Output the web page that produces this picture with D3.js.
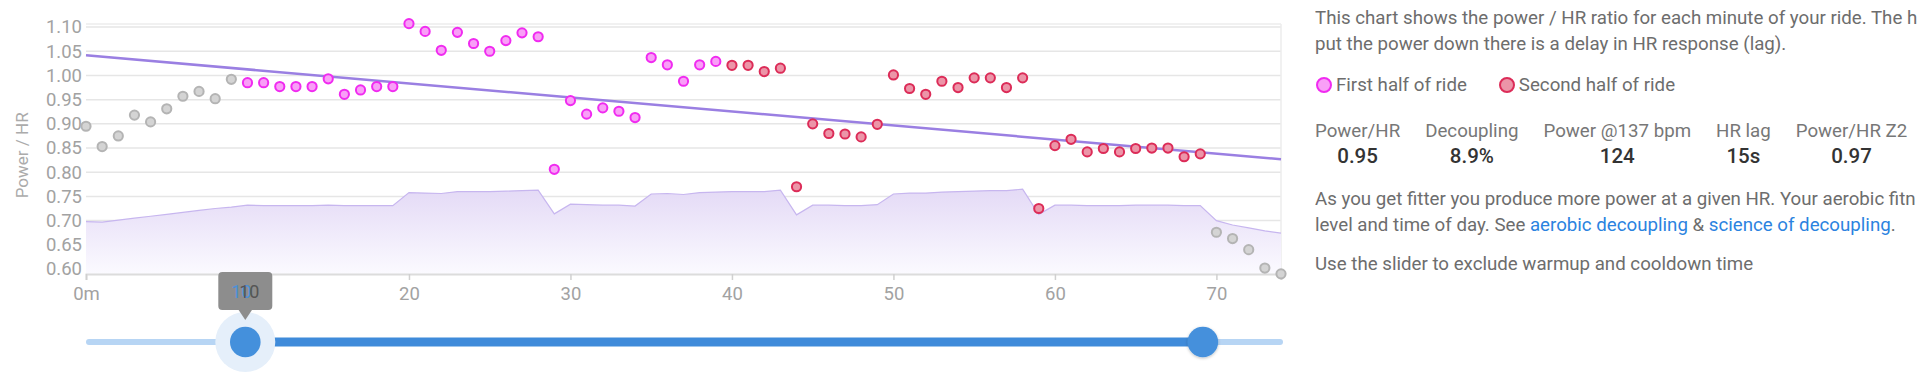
<!DOCTYPE html>
<html>
<head>
<meta charset="utf-8">
<script src="https://cdn.jsdelivr.net/npm/d3@7"></script>
<style>
  body { margin: 0; background: #fff; width: 1917px; height: 375px; overflow: hidden; position: relative; font-family: Roboto, sans-serif; }
  #chart { position: absolute; left: 0; top: 0; }
  #panel { position: absolute; left: 1315px; top: 0; width: 602px; height: 375px; overflow: hidden;
           color: #6d6d6d; font-size: 18.7px; line-height: 26px; white-space: nowrap; }
  .blk { position: absolute; left: 0; }
  .legend-item { display: inline-flex; align-items: center; margin-right: 31px; }
  .legend-item svg { margin-right: 3px; }
  .stats { display: flex; }
  .stat { text-align: center; margin-right: 25px; }
  .stat .lbl { color: #777; }
  .stat .val { color: #333; font-size: 20.5px; font-weight: 500; line-height: 25px; }
  a { color: #2b83e0; text-decoration: none; }
</style>
</head>
<body>
<svg id="chart"></svg>
<div id="panel"></div>
<script>
// power / HR ratio, one value per minute (0..74)
const ratio = [
  0.895, 0.853, 0.875, 0.918, 0.904, 0.931, 0.957, 0.967, 0.952, 0.992,
  0.985, 0.985, 0.977, 0.977, 0.977, 0.993, 0.961, 0.970, 0.977, 0.977,
  1.107, 1.091, 1.052, 1.089, 1.066, 1.050, 1.072, 1.088, 1.080, 0.806,
  0.948, 0.920, 0.933, 0.926, 0.913, 1.037, 1.022, 0.988, 1.022, 1.029,
  1.021, 1.021, 1.008, 1.015, 0.770, 0.900, 0.880, 0.879, 0.873, 0.899,
  1.001, 0.973, 0.961, 0.988, 0.975, 0.995, 0.995, 0.975, 0.995, 0.725,
  0.855, 0.868, 0.842, 0.849, 0.842, 0.849, 0.850, 0.850, 0.832, 0.838,
  0.676, 0.663, 0.640, 0.602, 0.590
];

// background effort profile, drawn on the same axis
const effort = [
  0.698, 0.697, 0.701, 0.705, 0.709, 0.713, 0.717, 0.721, 0.725, 0.728,
  0.732, 0.731, 0.731, 0.731, 0.731, 0.732, 0.731, 0.731, 0.731, 0.731,
  0.758, 0.757, 0.756, 0.760, 0.760, 0.760, 0.761, 0.762, 0.763, 0.714,
  0.734, 0.733, 0.732, 0.732, 0.730, 0.755, 0.756, 0.754, 0.758, 0.759,
  0.760, 0.760, 0.760, 0.763, 0.712, 0.732, 0.732, 0.731, 0.731, 0.733,
  0.755, 0.757, 0.757, 0.759, 0.760, 0.761, 0.762, 0.762, 0.765, 0.713,
  0.732, 0.732, 0.731, 0.731, 0.731, 0.732, 0.732, 0.732, 0.731, 0.731,
  0.700, 0.691, 0.685, 0.679, 0.674
];

const trendMinutes = [0, 74];
const trendValues  = [1.0415, 0.827];

const yTicks = [0.60, 0.65, 0.70, 0.75, 0.80, 0.85, 0.90, 0.95, 1.00, 1.05, 1.10];
const xTicks = [0, 10, 20, 30, 40, 50, 60, 70];
const sliderRange = [10, 69];

const legendLabels = ['First half of ride', 'Second half of ride'];
const statLabels = ['Power/HR', 'Decoupling', 'Power @137 bpm', 'HR lag', 'Power/HR Z2'];
const statValues = ['0.95', '8.9%', '124', '15s', '0.97'];

const COL = {
  first:  { fill: '#f99ff7', stroke: '#f02bf0' },
  second: { fill: '#ec95a8', stroke: '#dc2c58' },
  out:    { fill: '#d4d4d4', stroke: '#b4b4b4' }
};

const svg = d3.select('#chart').attr('width', 1300).attr('height', 375);

const x  = d3.scaleLinear().domain([0, 74]).range([86, 1281]);
const y  = d3.scaleLinear().domain([0.5897, 1.1063]).range([274, 24]);
const sx = d3.scaleLinear().domain([0, 74]).range([83, 1284]);
const sliderY = 342;

const defs = svg.append('defs');
const grad = defs.append('linearGradient').attr('id', 'effortGrad')
  .attr('x1', 0).attr('y1', 0).attr('x2', 0).attr('y2', 1);
grad.append('stop').attr('offset', '0%').attr('stop-color', '#e4daf6');
grad.append('stop').attr('offset', '100%').attr('stop-color', '#fbfaff');
defs.append('filter').attr('id', 'shadow')
  .append('feDropShadow').attr('dx', 0).attr('dy', 1).attr('stdDeviation', 1.5)
  .attr('flood-color', '#000').attr('flood-opacity', 0.25);

// grid
const grid = svg.append('g');
grid.selectAll('line.h')
  .data(yTicks)
  .join('line')
    .attr('x1', x.range()[0]).attr('x2', x.range()[1])
    .attr('y1', d => y(d)).attr('y2', d => y(d))
    .attr('stroke', '#e6e6e6').attr('stroke-width', 1.5);
grid.append('line')
  .attr('x1', x.range()[0]).attr('x2', x.range()[1])
  .attr('y1', y.range()[1]).attr('y2', y.range()[1])
  .attr('stroke', '#ececec').attr('stroke-width', 1.5);
grid.append('line')
  .attr('x1', x.range()[1]).attr('x2', x.range()[1])
  .attr('y1', y.range()[1]).attr('y2', y.range()[0])
  .attr('stroke', '#ececec').attr('stroke-width', 1.5);

// effort area
const area = d3.area()
  .x((d, i) => x(i))
  .y0(y.range()[0])
  .y1(d => y(d));
svg.append('path')
  .datum(effort)
  .attr('d', area)
  .attr('fill', 'url(#effortGrad)');
svg.append('path')
  .datum(effort)
  .attr('d', d3.line().x((d, i) => x(i)).y(d => y(d)))
  .attr('fill', 'none')
  .attr('stroke', '#c7b6ef')
  .attr('stroke-width', 1.2);

// x axis
const xAxis = svg.append('g')
  .attr('transform', `translate(0,${y.range()[0]})`)
  .call(d3.axisBottom(x).tickValues(xTicks).tickSize(6).tickPadding(7)
    .tickFormat(d => d === 0 ? '0m' : d));
xAxis.select('.domain').attr('stroke', '#dcdcdc').attr('stroke-width', 2);
xAxis.selectAll('.tick line').attr('stroke', '#d0d0d0').attr('stroke-width', 1.5);
xAxis.selectAll('text').attr('fill', '#a2a2a2').style('font-size', '18.5px').style('font-family', 'Roboto, sans-serif');

// y axis
const yAxis = svg.append('g')
  .attr('transform', `translate(${x.range()[0]},0)`)
  .call(d3.axisLeft(y).tickValues(yTicks).tickSize(0).tickPadding(4).tickFormat(d3.format('.2f')));
yAxis.select('.domain').remove();
yAxis.selectAll('text').attr('fill', '#a2a2a2').style('font-size', '18.5px').style('font-family', 'Roboto, sans-serif');

svg.append('text')
  .attr('transform', `translate(24,${y(0.835)}) rotate(-90)`)
  .attr('text-anchor', 'middle')
  .attr('dominant-baseline', 'middle')
  .attr('fill', '#ababab')
  .style('font-size', '17px')
  .text('Power / HR');

// trend line
svg.append('line')
  .attr('x1', x(trendMinutes[0])).attr('y1', y(trendValues[0]))
  .attr('x2', x(trendMinutes[1])).attr('y2', y(trendValues[1]))
  .attr('stroke', '#9a7fe2').attr('stroke-width', 2.5);

// points
const mid = (sliderRange[0] + sliderRange[1]) / 2;
const kind = i => (i < sliderRange[0] || i > sliderRange[1]) ? 'out' : (i < mid ? 'first' : 'second');
svg.append('g')
  .selectAll('circle')
  .data(ratio)
  .join('circle')
    .attr('cx', (d, i) => x(i))
    .attr('cy', d => y(d))
    .attr('r', 4.6)
    .attr('fill', (d, i) => COL[kind(i)].fill)
    .attr('stroke', (d, i) => COL[kind(i)].stroke)
    .attr('stroke-width', 2);

// slider
const slider = svg.append('g');
slider.append('line')
  .attr('x1', sx(0) + 6).attr('x2', sx(74) - 4)
  .attr('y1', sliderY).attr('y2', sliderY)
  .attr('stroke', '#b7d5f4').attr('stroke-width', 6).attr('stroke-linecap', 'round');
slider.append('line')
  .attr('x1', sx(sliderRange[0])).attr('x2', sx(sliderRange[1]))
  .attr('y1', sliderY).attr('y2', sliderY)
  .attr('stroke', '#3f8bda').attr('stroke-width', 9);
slider.append('circle')
  .attr('cx', sx(sliderRange[0])).attr('cy', sliderY).attr('r', 30)
  .attr('fill', '#e5effa');
slider.selectAll('circle.handle')
  .data(sliderRange)
  .join('circle')
    .attr('class', 'handle')
    .attr('cx', d => sx(d)).attr('cy', sliderY).attr('r', 15.3)
    .attr('fill', '#4490dc')
    .attr('filter', (d, i) => i === 1 ? 'url(#shadow)' : null);

// tooltip above the left handle
const tip = svg.append('g').attr('transform', `translate(${sx(sliderRange[0])},${sliderY})`);
tip.append('rect')
  .attr('x', -27).attr('y', -70).attr('width', 54).attr('height', 38).attr('rx', 4)
  .attr('fill', '#8d8d8d');
tip.append('path')
  .attr('d', 'M-7,-32.5L0,-22L7,-32.5Z')
  .attr('fill', '#8d8d8d');
tip.append('text')
  .attr('x', -4).attr('y', -44)
  .attr('text-anchor', 'middle')
  .attr('fill', '#4a90d9')
  .style('font-size', '18px')
  .text(sliderRange[0]);
tip.append('text')
  .attr('x', 4).attr('y', -44)
  .attr('text-anchor', 'middle')
  .attr('fill', '#555')
  .style('font-size', '18px')
  .text(sliderRange[0]);

// side panel
const panel = d3.select('#panel');
panel.append('div').attr('class', 'blk').style('top', '5px')
  .html('This chart shows the power / HR ratio for each minute of your ride. The h<br>put the power down there is a delay in HR response (lag).');

const legend = panel.append('div').attr('class', 'blk').style('top', '72px');
legend.selectAll('span')
  .data(legendLabels)
  .join('span')
    .attr('class', 'legend-item')
    .each(function(d, i) {
      const c = i === 0 ? COL.first : COL.second;
      const s = d3.select(this).append('svg').attr('width', 18).attr('height', 18);
      s.append('circle').attr('cx', 9).attr('cy', 9).attr('r', 7)
        .attr('fill', c.fill).attr('stroke', c.stroke).attr('stroke-width', 2);
      d3.select(this).append('span').text(d);
    });

const stats = panel.append('div').attr('class', 'blk stats').style('top', '118px');
stats.selectAll('div.stat')
  .data(statLabels)
  .join('div')
    .attr('class', 'stat')
    .each(function(d, i) {
      d3.select(this).append('div').attr('class', 'lbl').text(d);
      d3.select(this).append('div').attr('class', 'val').text(statValues[i]);
    });

panel.append('div').attr('class', 'blk').style('top', '186px')
  .html('As you get fitter you produce more power at a given HR. Your aerobic fitn<br>level and time of day. See <a>aerobic decoupling</a> &amp; <a>science of decoupling</a>.');
panel.append('div').attr('class', 'blk').style('top', '251px')
  .text('Use the slider to exclude warmup and cooldown time');
</script>
</body>
</html>
